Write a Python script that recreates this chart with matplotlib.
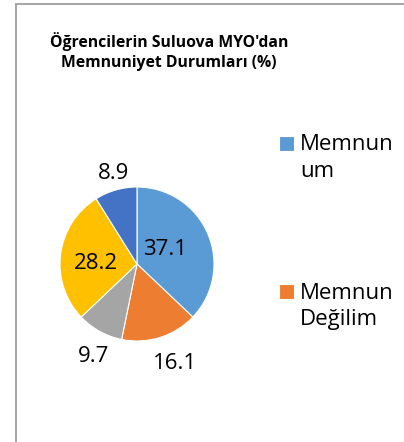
import matplotlib.pyplot as plt
from matplotlib.patches import Rectangle
from matplotlib.legend_handler import HandlerPatch
import numpy as np

#------------------------------------------------------------------------#
# Data
#------------------------------------------------------------------------#

title = "Öğrencilerin Suluova MYO'dan\nMemnuniyet Durumları (%)"
values = [37.1, 16.1, 9.7, 28.2, 8.9]
legend_labels = ["Memnun\num", "Memnun\nDeğilim"]
colors = ['#5B9BD5', '#ED7D31', '#A5A5A5', '#FFC000', '#4472C4']

# data label placement: radial distance (fraction of radius) and angle nudge (deg)
label_dist = [0.43, 1.36, 1.30, 0.54, 1.25]
label_turn = [8, 4, 3, 3, -2]

plt.rcParams['font.family'] = ['Open Sans', 'DejaVu Sans']

FS = 16
LS = 1.35

#------------------------------------------------------------------------#
# Plot
#------------------------------------------------------------------------#

W, H = 404, 442
fig = plt.figure(figsize=(W / 100, H / 100), dpi=100)

# chart border (only left and top edges visible)
fig.patches.append(Rectangle((16 / W, -0.1), 1.2, 1.1 - 4 / H,
                             transform=fig.transFigure, fill=False,
                             edgecolor='#A8A8A8', linewidth=1.5))

fig.text(169 / W, 1 - 32 / H, title, ha='center', va='top',
         fontsize=11.3, fontweight='bold', linespacing=1.3)

cx, cy, r = 137, 264, 77
ax = fig.add_axes([(cx - r) / W, (H - cy - r) / H, 2 * r / W, 2 * r / H])
wedges, _ = ax.pie(values, colors=colors, startangle=90, counterclock=False,
                   wedgeprops=dict(edgecolor='white', linewidth=0.8))
ax.set_xlim(-1, 1)
ax.set_ylim(-1, 1)
ax.axis('off')

for w, v, d, t in zip(wedges, values, label_dist, label_turn):
    ang = np.deg2rad((w.theta1 + w.theta2) / 2 + t)
    ax.text(d * np.cos(ang), d * np.sin(ang), f"{v:.1f}",
            ha='center', va='center_baseline', fontsize=FS)


# square next to the first line of a two-line label
def top_square(legend, orig_handle, xdescent, ydescent, width, height, fontsize):
    return Rectangle((-xdescent, -ydescent + LS * fontsize / 2), width, height)


leg = fig.legend(wedges[:2], legend_labels, loc='upper left',
                 bbox_to_anchor=(268 / W, 1 - 123 / H), frameon=False,
                 fontsize=FS, handlelength=0.65, handleheight=0.65,
                 handletextpad=0.3, labelspacing=4.55, borderpad=0,
                 handler_map={w: HandlerPatch(patch_func=top_square) for w in wedges[:2]})
for t in leg.get_texts():
    t.set_linespacing(LS)

plt.savefig('out.png', dpi=100)
